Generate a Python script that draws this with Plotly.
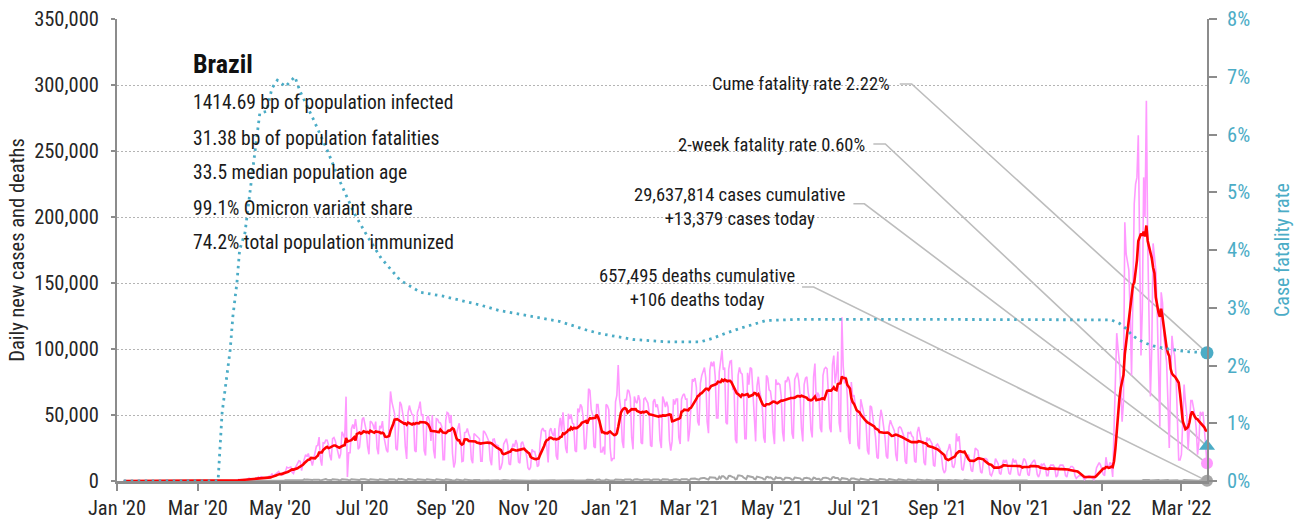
import pandas as pd
import plotly.graph_objects as go

FONT = "Roboto Condensed, Liberation Sans Narrow, DejaVu Sans Condensed, Arial Narrow, sans-serif"
TEAL = "#4BACC6"
PINK = "#FF99FF"
RED = "#FF0000"
GREY = "#A6A6A6"
AXIS_GREY = "#8C8C8C"

series_start = "2020-01-06"  # first Monday of the daily series

# Daily new cases, one row per week (Monday .. Sunday)
cases_weeks = [
    [0, 0, 0, 0, 0, 0, 0],
    [0, 0, 0, 0, 0, 0, 0],
    [0, 0, 0, 0, 0, 0, 0],
    [0, 0, 0, 0, 0, 0, 0],
    [0, 0, 0, 0, 0, 0, 0],
    [0, 0, 0, 0, 0, 0, 0],
    [0, 0, 0, 0, 0, 0, 0],
    [0, 0, 1, 0, 0, 1, 0],
    [0, 0, 0, 1, 5, 5, 6],
    [5, 9, 9, 18, 25, 21, 23],
    [34, 57, 137, 193, 283, 224, 418],
    [345, 310, 232, 482, 502, 487, 352],
    [323, 1138, 1119, 1074, 1146, 1222, 852],
    [926, 1661, 2210, 1930, 1781, 1089, 1442],
    [1261, 1832, 3058, 2105, 3257, 2917, 2055],
    [1927, 2498, 2678, 3735, 3503, 5514, 3379],
    [4613, 5385, 6276, 7218, 5015, 4898, 4726],
    [6633, 6935, 10503, 9888, 10222, 10611, 6638],
    [5632, 9258, 11385, 13944, 15305, 14919, 7938],
    [13140, 17408, 19951, 18508, 20803, 16508, 15813],
    [11687, 16324, 20599, 26417, 26928, 33274, 16409],
    [11598, 28936, 28633, 30925, 30830, 27075, 18912],
    [15654, 32091, 32913, 30412, 25982, 21704, 17110],
    [20647, 37278, 34918, 32188, 63900, 3000, 21432],
    [21432, 39436, 42725, 39483, 46860, 38693, 24052],
    [25545, 33846, 46712, 48105, 42223, 37923, 26051],
    [20229, 45305, 44571, 42619, 39023, 45048, 24831],
    [20286, 41857, 39924, 45403, 34177, 28532, 23529],
    [21749, 44887, 67860, 59961, 55891, 51147, 24578],
    [23284, 40816, 60000, 57837, 52383, 45392, 25800],
    [16641, 51603, 57152, 53139, 50230, 49970, 23010],
    [22048, 52160, 55155, 60091, 49274, 50644, 23101],
    [19373, 47784, 49298, 45323, 30355, 50032, 23421],
    [17078, 47134, 46659, 44235, 43983, 41350, 16158],
    [16158, 45961, 52000, 51194, 43773, 50000, 21000],
    [10273, 14279, 35816, 40557, 43718, 33523, 14768],
    [15155, 36653, 36820, 39797, 35757, 33057, 16389],
    [13439, 36000, 35000, 34000, 33000, 32000, 15000],
    [15000, 38000, 37000, 35000, 32000, 30000, 16000],
    [11946, 31553, 31850, 27750, 27444, 26749, 8456],
    [10000, 14000, 28000, 30000, 32000, 27000, 13000],
    [12212, 24227, 28235, 25818, 31026, 27979, 14493],
    [13493, 28629, 29787, 26106, 23976, 18947, 10100],
    [8501, 10554, 23976, 22380, 22282, 18000, 10917],
    [12000, 29000, 38000, 40000, 38000, 38000, 22000],
    [14000, 38000, 40000, 36000, 34000, 40000, 19000],
    [16207, 40000, 47898, 37614, 52000, 37000, 25000],
    [21138, 50909, 46884, 50434, 43900, 43009, 23000],
    [22000, 55000, 52000, 58000, 56000, 48000, 24000],
    [25000, 42000, 69826, 68437, 54000, 50177, 26000],
    [25000, 58000, 58000, 48000, 22000, 22000, 26000],
    [20000, 58000, 57000, 54000, 25000, 15000, 17000],
    [17000, 60000, 65000, 87843, 62000, 54000, 30000],
    [25000, 62000, 61000, 69000, 68000, 63000, 33000],
    [24000, 64000, 60000, 59000, 65000, 61000, 29000],
    [28000, 62000, 63000, 61000, 59000, 52000, 27000],
    [26000, 60000, 62000, 56000, 58000, 52000, 31000],
    [25000, 64000, 61000, 56000, 60000, 56000, 31000],
    [23000, 30000, 62000, 58000, 62000, 62000, 33000],
    [28000, 62000, 65000, 66000, 62000, 62000, 30000],
    [38000, 65000, 77000, 76000, 78000, 71000, 45000],
    [42000, 74000, 80000, 84000, 86000, 78000, 45000],
    [36239, 83926, 90303, 86982, 90570, 79069, 47774],
    [47774, 82493, 89992, 99000, 84245, 85948, 44326],
    [42980, 84494, 90638, 91097, 69000, 70000, 31359],
    [28645, 80000, 86000, 82000, 81000, 66000, 32000],
    [32000, 82000, 73000, 86000, 85000, 67000, 42000],
    [30000, 72000, 79000, 68000, 63000, 55000, 33000],
    [29000, 80000, 78000, 69000, 68000, 60000, 37000],
    [28000, 77000, 73000, 74000, 73000, 64000, 37000],
    [30000, 76000, 75000, 79000, 76000, 67000, 36000],
    [32000, 77000, 80000, 82000, 76000, 65000, 40000],
    [30000, 73000, 78000, 79000, 67000, 62000, 39000],
    [33000, 79000, 89000, 60000, 67000, 65000, 40000],
    [37000, 80000, 85000, 86000, 85000, 66000, 40000],
    [37000, 88000, 95000, 74000, 82000, 98000, 44000],
    [37000, 124000, 87000, 74000, 79000, 65000, 33000],
    [28000, 75000, 64000, 65000, 57000, 53000, 27000],
    [24000, 62000, 57000, 54000, 48000, 43000, 23000],
    [20000, 57000, 56000, 48000, 42000, 33000, 18000],
    [17000, 45000, 54000, 49000, 40000, 33000, 19000],
    [17000, 41000, 46000, 43000, 41000, 38000, 20000],
    [15000, 40000, 41000, 40000, 36000, 34000, 15000],
    [13000, 37000, 36000, 37000, 34000, 33000, 15000],
    [14000, 37000, 41000, 36000, 30000, 30000, 14000],
    [12000, 33000, 31000, 32000, 30000, 28000, 12000],
    [11000, 27000, 28000, 26000, 24000, 18000, 9000],
    [6000, 8000, 22000, 24000, 28000, 22000, 11000],
    [10000, 14000, 36000, 30000, 34000, 22000, 9000],
    [8000, 17000, 21000, 18000, 20000, 15000, 8000],
    [7000, 18000, 25000, 24000, 23000, 15000, 7000],
    [6000, 15000, 17000, 17000, 16000, 12000, 5000],
    [4000, 7000, 10000, 17000, 15000, 13000, 6000],
    [5000, 12000, 16000, 14000, 16000, 12000, 6000],
    [5000, 11000, 17000, 14000, 16000, 12000, 5000],
    [4000, 8000, 12000, 17000, 16000, 13000, 5000],
    [4000, 12000, 14000, 15000, 16000, 12000, 5000],
    [3000, 6000, 13000, 12000, 13000, 11000, 4000],
    [4000, 10000, 12000, 12000, 12000, 10000, 3000],
    [4000, 10000, 12000, 12000, 12000, 10000, 4000],
    [3000, 8000, 9000, 11000, 11000, 10000, 4000],
    [2000, 3000, 4000, 4000, 4000, 3000, 1000],
    [2000, 3000, 4000, 4000, 3000, 2000, 1000],
    [4000, 10000, 12000, 14000, 12000, 9000, 5000],
    [4000, 18000, 12000, 10000, 14000, 13000, 3000],
    [35000, 85000, 112000, 100000, 90000, 70000, 45000],
    [60000, 196000, 172000, 165000, 160000, 125000, 80000],
    [140000, 210000, 225000, 230000, 262000, 150000, 95000],
    [130000, 230000, 200000, 288000, 180000, 120000, 64000],
    [100000, 180000, 170000, 160000, 130000, 90000, 41000],
    [143000, 135000, 110000, 100000, 90000, 60000, 25000],
    [75000, 110000, 100000, 95000, 80000, 45000, 16000],
    [16000, 20000, 45000, 73000, 60000, 50000, 23500],
    [40000, 61000, 61000, 55000, 50000, 40000, 20000],
    [30000, 52500, 50000, 52500, 40000, 25000, 13379],
]

# Daily new deaths, one row per week (Monday .. Sunday)
deaths_weeks = [
    [0, 0, 0, 0, 0, 0, 0],
    [0, 0, 0, 0, 0, 0, 0],
    [0, 0, 0, 0, 0, 0, 0],
    [0, 0, 0, 0, 0, 0, 0],
    [0, 0, 0, 0, 0, 0, 0],
    [0, 0, 0, 0, 0, 0, 0],
    [0, 0, 0, 0, 0, 0, 0],
    [0, 0, 0, 0, 0, 0, 0],
    [0, 0, 0, 0, 0, 0, 0],
    [0, 0, 0, 0, 0, 0, 0],
    [0, 1, 3, 2, 5, 7, 7],
    [9, 12, 13, 18, 15, 22, 23],
    [42, 40, 36, 60, 58, 73, 54],
    [67, 114, 133, 141, 115, 68, 99],
    [105, 204, 204, 188, 217, 206, 115],
    [113, 166, 165, 407, 357, 346, 189],
    [338, 474, 449, 435, 421, 275, 296],
    [263, 600, 615, 610, 751, 730, 496],
    [396, 881, 749, 844, 824, 816, 485],
    [674, 1179, 888, 1188, 1001, 965, 653],
    [807, 1039, 1086, 1156, 1124, 956, 480],
    [623, 1262, 1349, 1473, 1005, 904, 525],
    [679, 1272, 1274, 1239, 909, 892, 612],
    [627, 1282, 1269, 1238, 1206, 1022, 641],
    [654, 1374, 1185, 1141, 990, 1109, 552],
    [692, 1280, 1038, 1252, 1290, 1091, 602],
    [620, 1254, 1223, 1220, 1214, 1071, 631],
    [733, 1300, 1233, 1322, 1163, 921, 716],
    [632, 1367, 1284, 1311, 1156, 1211, 555],
    [614, 1595, 1129, 1437, 1212, 1088, 541],
    [561, 1394, 1437, 1226, 1079, 905, 572],
    [703, 1274, 1175, 1060, 1262, 709, 620],
    [684, 1352, 1212, 1204, 1054, 892, 494],
    [565, 1271, 1085, 984, 855, 758, 441],
    [553, 1215, 1184, 834, 874, 682, 447],
    [310, 476, 1075, 983, 874, 814, 415],
    [381, 1113, 967, 858, 829, 761, 363],
    [377, 809, 869, 831, 729, 727, 335],
    [384, 863, 733, 729, 728, 548, 295],
    [356, 711, 734, 754, 666, 580, 227],
    [201, 309, 716, 754, 497, 461, 230],
    [271, 566, 497, 571, 510, 432, 230],
    [264, 513, 510, 389, 349, 192, 190],
    [162, 178, 364, 610, 450, 455, 224],
    [210, 460, 500, 480, 450, 420, 250],
    [216, 676, 754, 678, 519, 568, 302],
    [322, 630, 691, 654, 612, 549, 265],
    [319, 697, 698, 755, 672, 654, 313],
    [314, 842, 835, 855, 770, 681, 298],
    [417, 964, 936, 1092, 798, 686, 279],
    [307, 968, 963, 1054, 471, 426, 338],
    [432, 1111, 1074, 1036, 462, 314, 293],
    [469, 1171, 1242, 1524, 1035, 962, 469],
    [580, 1110, 1131, 1151, 1151, 1050, 551],
    [452, 1183, 1382, 1340, 1096, 1054, 592],
    [627, 1214, 1283, 1386, 1224, 1060, 595],
    [595, 1209, 1269, 1232, 1239, 1146, 509],
    [605, 1350, 1330, 1452, 1239, 1161, 557],
    [527, 683, 1130, 1367, 1299, 1064, 527],
    [633, 1386, 1428, 1541, 1337, 1275, 721],
    [778, 1726, 1840, 1786, 1800, 1498, 1086],
    [987, 1972, 2286, 2233, 2216, 1871, 1127],
    [1057, 2798, 2736, 2724, 2815, 2438, 1290],
    [1383, 3251, 2009, 3650, 3600, 2843, 1656],
    [1660, 3780, 3869, 3673, 2922, 2694, 1240],
    [1623, 4195, 4249, 3829, 3693, 2616, 1803],
    [1480, 3808, 3459, 3560, 3070, 2865, 1657],
    [1347, 3321, 3157, 2914, 2865, 2202, 1305],
    [1202, 3086, 3163, 2572, 2811, 2265, 1202],
    [1207, 2966, 2311, 2550, 2517, 2091, 1024],
    [1044, 2383, 2383, 2494, 2245, 1779, 983],
    [1064, 2517, 2398, 2311, 2190, 1987, 1004],
    [847, 2173, 2311, 2392, 2000, 1934, 860],
    [860, 2507, 2346, 1454, 1824, 1689, 873],
    [1021, 2378, 2693, 2504, 2217, 2036, 1131],
    [1141, 2760, 2997, 2311, 2495, 2301, 1025],
    [739, 2131, 2080, 2081, 1997, 1593, 713],
    [618, 1893, 2081, 1879, 1505, 1385, 749],
    [695, 1780, 1595, 1524, 1412, 1171, 830],
    [614, 1659, 1548, 1388, 1289, 1171, 576],
    [542, 1424, 1367, 1380, 1324, 1133, 460],
    [578, 1403, 1254, 1318, 1111, 924, 486],
    [465, 1209, 1114, 1088, 1062, 956, 389],
    [424, 1148, 1057, 980, 1060, 828, 427],
    [411, 1115, 1064, 857, 902, 782, 416],
    [398, 955, 931, 826, 849, 741, 306],
    [275, 839, 814, 791, 698, 692, 250],
    [280, 306, 560, 770, 699, 509, 231],
    [293, 695, 643, 696, 629, 563, 267],
    [257, 839, 648, 634, 495, 461, 213],
    [229, 634, 587, 594, 637, 506, 217],
    [162, 530, 525, 517, 544, 394, 186],
    [190, 167, 331, 512, 450, 400, 165],
    [131, 469, 432, 379, 437, 372, 160],
    [162, 423, 452, 346, 389, 278, 130],
    [131, 122, 229, 305, 398, 304, 118],
    [131, 262, 305, 317, 266, 200, 100],
    [95, 180, 313, 294, 273, 183, 100],
    [91, 281, 265, 287, 247, 204, 100],
    [99, 224, 216, 243, 282, 187, 95],
    [70, 220, 200, 210, 180, 100, 60],
    [40, 60, 80, 90, 70, 50, 30],
    [40, 80, 90, 100, 80, 60, 30],
    [60, 130, 120, 140, 110, 80, 40],
    [60, 150, 160, 170, 150, 120, 50],
    [80, 190, 220, 230, 200, 150, 80],
    [120, 310, 360, 340, 350, 260, 130],
    [230, 560, 620, 640, 600, 480, 250],
    [380, 830, 900, 950, 900, 700, 400],
    [460, 1000, 1050, 1050, 1000, 800, 420],
    [450, 990, 960, 900, 900, 700, 380],
    [400, 850, 800, 780, 700, 550, 280],
    [200, 250, 400, 700, 650, 500, 250],
    [260, 700, 650, 600, 550, 400, 180],
    [180, 500, 450, 420, 400, 300, 106],
]

# Cumulative case fatality rate (%), right axis
cfr_dates = [
    "2020-01-06", "2020-03-16", "2020-03-19", "2020-03-22", "2020-03-25", "2020-03-27",
    "2020-03-30", "2020-04-01", "2020-04-05", "2020-04-11", "2020-04-16", "2020-04-21",
    "2020-04-25", "2020-04-29", "2020-05-05", "2020-05-12", "2020-05-16", "2020-05-26",
    "2020-06-05", "2020-06-15", "2020-06-25", "2020-07-05", "2020-07-15", "2020-07-29",
    "2020-08-13", "2020-08-30", "2020-09-26", "2020-10-11", "2020-11-05", "2020-11-25",
    "2020-12-15", "2020-12-25", "2021-01-18", "2021-02-12", "2021-03-09", "2021-03-18",
    "2021-03-28", "2021-04-07", "2021-04-27", "2021-05-22", "2021-08-01", "2021-11-01",
    "2022-01-08", "2022-01-14", "2022-01-19", "2022-01-23", "2022-01-28", "2022-02-02",
    "2022-02-08", "2022-02-18", "2022-03-05", "2022-03-20",
]
cfr_values = [
    0.0, 0.0, 1.18, 1.7, 2.27, 2.85,
    3.43, 4.0, 4.3, 5.44, 6.37, 6.4,
    6.8, 6.94, 6.83, 7.0, 6.74, 6.25,
    5.73, 5.16, 4.64, 4.23, 3.86, 3.48,
    3.27, 3.2, 3.05, 2.95, 2.85, 2.76,
    2.61, 2.55, 2.45, 2.41, 2.41, 2.47,
    2.56, 2.64, 2.78, 2.8, 2.8, 2.79,
    2.79, 2.73, 2.64, 2.53, 2.45, 2.39,
    2.34, 2.29, 2.24, 2.22,
]

# Headline figures
country = "Brazil"
stat_lines = [
    "1414.69 bp of population infected",
    "31.38 bp of population fatalities",
    "33.5 median population age",
    "99.1% Omicron variant share",
    "74.2% total population immunized",
]
cume_fatality_rate = 2.22
two_week_fatality_rate = 0.60
cases_cumulative = 29637814
cases_today = 13379
deaths_cumulative = 657495
deaths_today = 106

# Axis settings
x_start = "2020-01-01"
y_max = 350000
y2_max = 8

cases = [v for week in cases_weeks for v in week]
deaths = [v for week in deaths_weeks for v in week]
case_dates = pd.date_range(series_start, periods=len(cases), freq="D")
death_dates = pd.date_range(series_start, periods=len(deaths), freq="D")
cases_avg = pd.Series(cases, index=case_dates).rolling(7, min_periods=1).mean()
last_date = case_dates[-1]

fig = go.Figure()

fig.add_trace(go.Scatter(x=death_dates, y=deaths, mode="lines",
                         line=dict(color=GREY, width=2), hoverinfo="skip"))
fig.add_trace(go.Scatter(x=case_dates, y=cases, mode="lines",
                         line=dict(color=PINK, width=1.6), hoverinfo="skip"))
fig.add_trace(go.Scatter(x=case_dates, y=cases_avg.values, mode="lines",
                         line=dict(color=RED, width=2.6), hoverinfo="skip"))
fig.add_trace(go.Scatter(x=pd.to_datetime(cfr_dates), y=cfr_values, mode="lines",
                         yaxis="y2", line=dict(color=TEAL, width=2.8, dash="2.5px,4.5px"),
                         hoverinfo="skip"))

# End-of-series markers
fig.add_trace(go.Scatter(x=[last_date], y=[deaths_today], mode="markers", cliponaxis=False,
                         marker=dict(color=GREY, size=12, symbol="circle"), hoverinfo="skip"))
fig.add_trace(go.Scatter(x=[last_date], y=[cases_today], mode="markers", cliponaxis=False,
                         marker=dict(color=PINK, size=12, symbol="circle"), hoverinfo="skip"))
fig.add_trace(go.Scatter(x=[last_date], y=[two_week_fatality_rate], mode="markers",
                         cliponaxis=False, yaxis="y2",
                         marker=dict(color=TEAL, size=14, symbol="triangle-up"), hoverinfo="skip"))
fig.add_trace(go.Scatter(x=[last_date], y=[cume_fatality_rate], mode="markers",
                         cliponaxis=False, yaxis="y2",
                         marker=dict(color=TEAL, size=13, symbol="circle"), hoverinfo="skip"))

# Left stats block
annotations = [dict(x=0.068, y=0.9026, xref="paper", yref="paper", xanchor="left",
                    yanchor="middle", showarrow=False, text=f"<b>{country}</b>",
                    font=dict(family=FONT, size=26, color="#111111"))]
stat_y = [0.8203, 0.7424, 0.6667, 0.5909, 0.5152]
for line, yy in zip(stat_lines, stat_y):
    annotations.append(dict(x=0.068, y=yy, xref="paper", yref="paper", xanchor="left",
                            yanchor="middle", showarrow=False, text=line,
                            font=dict(family=FONT, size=19.5, color="#1a1a1a")))

# Callouts with leader lines to the end markers
callouts = [
    (f"Cume fatality rate {cume_fatality_rate:.2f}%", 0.7112, 0.8593, "right",
     (0.7181, 0.8593), (0.7291, 0.8593), cume_fatality_rate / y2_max),
    (f"2-week fatality rate {two_week_fatality_rate:.2f}%", 0.6883, 0.7273, "right",
     (0.6939, 0.7294), (0.7049, 0.7294), two_week_fatality_rate / y2_max),
    (f"{cases_cumulative:,} cases cumulative<br>+{cases_today:,} cases today", 0.571, 0.592,
     "center", (0.6756, 0.6000), (0.6857, 0.6000), cases_today / y_max),
    (f"{deaths_cumulative:,} deaths cumulative<br>+{deaths_today:,} deaths today", 0.532, 0.4177,
     "center", (0.6285, 0.4199), (0.6391, 0.4199), deaths_today / y_max),
]
shapes = []
for text, tx, ty, anchor, p0, p1, yend in callouts:
    annotations.append(dict(x=tx, y=ty, xref="paper", yref="paper", xanchor=anchor,
                            yanchor="middle", align="center", showarrow=False, text=text,
                            font=dict(family=FONT, size=18.5, color="#1a1a1a")))
    shapes.append(dict(type="path", xref="paper", yref="paper", layer="below",
                       path=f"M {p0[0]},{p0[1]} L {p1[0]},{p1[1]} L 1,{yend}",
                       line=dict(color="#BDBDBD", width=1.6)))

fig.update_layout(
    width=1299, height=520, autosize=False,
    margin=dict(l=117, r=92, t=19, b=39),
    paper_bgcolor="white", plot_bgcolor="white",
    showlegend=False, hovermode=False,
    font=dict(family=FONT, size=20, color="#262626"),
    annotations=annotations, shapes=shapes,
    xaxis=dict(range=[x_start, last_date], type="date", tickformat="%b '%y",
               dtick="M2", tick0="2020-01-01", ticks="outside", ticklen=7, tickwidth=1.5,
               tickcolor=AXIS_GREY, showline=True, linecolor=AXIS_GREY, linewidth=2.5,
               showgrid=False, zeroline=False, automargin=False,
               tickfont=dict(size=20.5, color="#262626")),
    yaxis=dict(range=[0, y_max], dtick=50000, tickformat=",", ticks="outside", ticklen=4,
               tickwidth=1.5, tickcolor=AXIS_GREY, showline=True, linecolor=AXIS_GREY,
               linewidth=2, showgrid=True, gridcolor="#B4B4B4", griddash="1.5px,2.5px",
               gridwidth=1, zeroline=False, automargin=False, ticklabelstandoff=8,
               tickfont=dict(size=20.5, color="#262626"),
               title=dict(text="Daily new cases and deaths", font=dict(size=20.5, color="#262626"),
                          standoff=4)),
    yaxis2=dict(range=[0, y2_max], dtick=1, ticksuffix="%", overlaying="y", side="right",
                ticks="outside", ticklen=8, tickwidth=1.5, tickcolor=AXIS_GREY, showline=True,
                linecolor=AXIS_GREY, linewidth=2, showgrid=False, zeroline=False,
                automargin=False, ticklabelstandoff=6,
                tickfont=dict(size=20.5, color=TEAL),
                title=dict(text="Case fatality rate", font=dict(size=20, color=TEAL),
                           standoff=26)),
)

fig.write_html("out.html")
